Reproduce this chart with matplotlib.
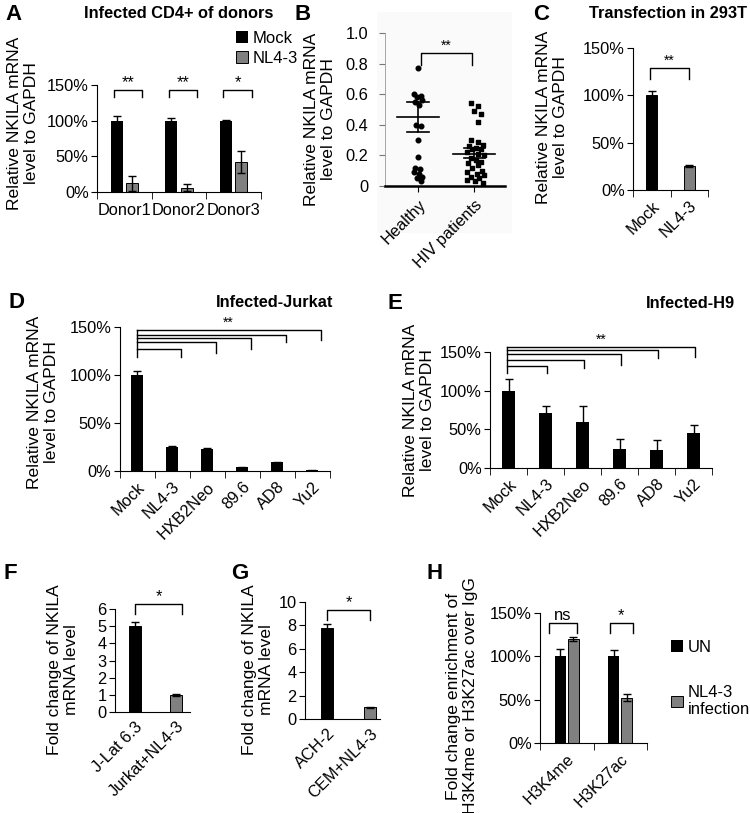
import matplotlib.pyplot as plt
import numpy as np
from matplotlib.ticker import FuncFormatter
from matplotlib.patches import Rectangle

plt.rcParams['font.family'] = ['Liberation Sans', 'DejaVu Sans']

# ---- data ----
donors = ['Donor1', 'Donor2', 'Donor3']
a_mock = [100, 100, 100]
a_mock_err = [6, 4, 1]
a_nl = [12, 6, 42]
a_nl_err = [10, 5, 15]
a_stars = ['**', '**', '*']

b_groups = ['Healthy', 'HIV patients']
healthy = [0.77, 0.60, 0.59, 0.58, 0.56, 0.55, 0.53, 0.40, 0.39, 0.30,
           0.19, 0.12, 0.11, 0.09, 0.08, 0.06, 0.05, 0.03]
hiv = [0.54, 0.52, 0.49, 0.47, 0.42, 0.30, 0.29, 0.27, 0.26, 0.25, 0.24,
       0.24, 0.22, 0.21, 0.20, 0.18, 0.17, 0.16, 0.15, 0.14, 0.12, 0.10,
       0.09, 0.08, 0.07, 0.06, 0.05, 0.04, 0.03, 0.02]
b_mean = [0.45, 0.21]
b_sem_lo = [0.35, 0.18]
b_sem_hi = [0.55, 0.25]
healthy_dx = [0.0, -0.15, 0.12, -0.05, 0.15, -0.12, 0.05, -0.08, 0.1, 0.0,
              0.0, -0.12, 0.08, -0.15, 0.02, 0.15, -0.05, 0.1]
hiv_dx = [-0.08, 0.12, 0.0, 0.2, 0.1, -0.1, 0.12, 0.25, -0.15, 0.05, -0.05,
          0.2, -0.2, 0.1, 0.28, -0.1, 0.05, 0.2, -0.18, 0.12, -0.05, 0.22,
          -0.2, 0.08, 0.3, -0.1, 0.15, -0.22, 0.02, 0.25]

c_labels = ['Mock', 'NL4-3']
c_vals = [100, 25]
c_err = [5, 1]

virus = ['Mock', 'NL4-3', 'HXB2Neo', '89.6', 'AD8', 'Yu2']
d_vals = [100, 25, 23, 4, 9, 1]
d_err = [4, 1, 1, 0.5, 0.5, 0.5]
e_vals = [100, 71, 60, 25, 23, 45]
e_err = [15, 9, 20, 13, 13, 10]

f_labels = ['J-Lat 6.3', 'Jurkat+NL4-3']
f_vals = [5.0, 1.0]
f_err = [0.25, 0.04]
g_labels = ['ACH-2', 'CEM+NL4-3']
g_vals = [7.8, 1.0]
g_err = [0.35, 0.03]

marks = ['H3K4me', 'H3K27ac']
h_un = [100, 100]
h_un_err = [9, 7]
h_nl = [120, 52]
h_nl_err = [2, 4]
h_stars = ['ns', '*']

W, H = 750, 813
fig = plt.figure(figsize=(7.5, 8.13), dpi=100)
GRAY = '#808080'
FS = 11.8


def px_axes(x0, y_top, x1, y_bot):
    return fig.add_axes([x0 / W, 1 - y_bot / H, (x1 - x0) / W, (y_bot - y_top) / H])


def ftext(x, y, s, **kw):
    fig.text(x / W, 1 - y / H, s, **kw)


def style(ax):
    for s in ['top', 'right']:
        ax.spines[s].set_visible(False)
    ax.tick_params(axis='y', direction='out', length=4, labelsize=FS, pad=2)
    ax.patch.set_alpha(0)


def cat_axis(ax, n, labels, rot=45):
    ax.set_xticks(range(n))
    if rot:
        ax.set_xticklabels(labels, rotation=rot, ha='right', rotation_mode='anchor', fontsize=FS)
    else:
        ax.set_xticklabels(labels, fontsize=FS)
    ax.tick_params(axis='x', length=0, pad=6)
    ax.set_xticks(np.arange(n + 1) - 0.5, minor=True)
    ax.tick_params(axis='x', which='minor', length=5, direction='out')


def pct(ax):
    ax.set_ylim(0, 150)
    ax.set_yticks([0, 50, 100, 150])
    ax.yaxis.set_major_formatter(FuncFormatter(lambda v, p: f'{v:.0f}%'))


def bracket(ax, x0, x1, top, y0, y1, txt, fs=FS):
    ax.plot([x0, x0, x1, x1], [y0, top, top, y1], color='black', lw=1, clip_on=False)
    ax.text((x0 + x1) / 2, top, txt, ha='center', va='bottom', fontsize=fs, clip_on=False)


ekw = dict(elinewidth=1, capthick=1, ecolor='black')

# ---- A ----
ax = px_axes(97, 85, 261, 192)
style(ax)
x = np.arange(len(donors))
bm = ax.bar(x - 0.14, a_mock, 0.22, yerr=a_mock_err, color='black', capsize=3, error_kw=ekw)
bn = ax.bar(x + 0.14, a_nl, 0.22, yerr=a_nl_err, color=GRAY, edgecolor='black', lw=0.7,
            capsize=3, error_kw=ekw)
pct(ax)
ax.set_xlim(-0.5, 2.5)
cat_axis(ax, 3, donors, rot=0)
ax.tick_params(axis='x', pad=8)
for i, s in enumerate(a_stars):
    bracket(ax, i - 0.19, i + 0.33, 143, 133, 133, s)
ax.legend([bm, bn], ['Mock', 'NL4-3'], loc='upper left', bbox_to_anchor=(236 / W, 1 - 31 / H),
          bbox_transform=fig.transFigure, frameon=False, handlelength=0.7, handleheight=0.7,
          handletextpad=0.3, borderaxespad=0, borderpad=0, labelspacing=0.3, fontsize=12)

# ---- B ----
fig.patches.append(Rectangle((377 / W, 1 - 233 / H), 135 / W, 221 / H, transform=fig.transFigure,
                             facecolor='#fafafa', edgecolor='none', zorder=-5))
ax = px_axes(385, 33, 505, 186)
style(ax)
ax.scatter(np.array(healthy_dx) * 0.5, healthy, s=11, marker='o', color='black', zorder=3)
ax.scatter(1 + np.array(hiv_dx) * 0.6, hiv, s=10, marker='s', color='black', zorder=3)
for i in range(2):
    ax.plot([i - 0.37, i + 0.37], [b_mean[i]] * 2, color='black', lw=1.2)
    ax.plot([i - 0.19, i + 0.19], [b_sem_lo[i]] * 2, color='black', lw=1.2)
    ax.plot([i - 0.19, i + 0.19], [b_sem_hi[i]] * 2, color='black', lw=1.2)
    ax.plot([i, i], [b_sem_lo[i], b_sem_hi[i]], color='black', lw=1.2)
ax.set_ylim(0, 1.0)
ax.set_xlim(-0.59, 1.55)
ax.set_yticks([0, 0.2, 0.4, 0.6, 0.8, 1.0])
ax.set_yticklabels(['0', '0.2', '0.4', '0.6', '0.8', '1.0'])
ax.tick_params(axis='y', pad=8, color='#777777')
ax.spines['left'].set_color('#999999')
ax.spines['left'].set_linewidth(0.6)
ax.spines['bottom'].set_linewidth(1.8)
ax.set_xticks([0, 1])
ax.set_xticklabels(b_groups, rotation=45, ha='right', rotation_mode='anchor', fontsize=FS)
ax.tick_params(axis='x', length=4, pad=4)
bracket(ax, 0.05, 0.96, 0.87, 0.79, 0.79, '**', fs=10)

# ---- C ----
ax = px_axes(633, 48, 708, 190)
style(ax)
ax.bar([0, 1], c_vals, 0.3, yerr=c_err, color=['black', GRAY], edgecolor='black', lw=0.7,
       capsize=3, error_kw=ekw)
pct(ax)
ax.set_xlim(-0.5, 1.375)
cat_axis(ax, 2, c_labels)
bracket(ax, -0.05, 1.0, 129, 117, 117, '**', fs=10)

# ---- D ----
ax = px_axes(119.5, 327, 329.5, 471)
style(ax)
ax.bar(range(6), d_vals, 0.34, yerr=d_err, color='black', capsize=3, error_kw=ekw)
pct(ax)
ax.set_xlim(-0.5, 5.5)
cat_axis(ax, 6, virus)
d_top = [127, 134, 139, 142, 147]
d_end = [119, 123, 127, 134, 136]
for i in range(5):
    ax.plot([0, i + 1.25, i + 1.25], [d_top[i], d_top[i], d_end[i]], color='black', lw=1, clip_on=False)
ax.plot([0, 0], [119, 147], color='black', lw=1, clip_on=False)
ax.text(2.6, 147, '**', ha='center', va='bottom', fontsize=10)

# ---- E ----
ax = px_axes(490, 352, 712, 468)
style(ax)
ax.bar(range(6), e_vals, 0.33, yerr=e_err, color='black', capsize=3, error_kw=ekw)
pct(ax)
ax.set_xlim(-0.5, 5.5)
cat_axis(ax, 6, virus)
e_top = [132, 140, 147, 153, 157]
e_end = [123, 129, 133, 142, 144]
for i in range(5):
    ax.plot([-0.05, i + 1.03, i + 1.03], [e_top[i], e_top[i], e_end[i]], color='black', lw=1, clip_on=False)
ax.plot([-0.05, -0.05], [123, 157], color='black', lw=1, clip_on=False)
ax.text(2.5, 157, '**', ha='center', va='bottom', fontsize=10)

# ---- F ----
ax = px_axes(115, 609, 190, 712)
style(ax)
ax.bar([0, 1], f_vals, 0.3, yerr=f_err, color=['black', GRAY], edgecolor='black', lw=0.7,
       capsize=3, error_kw=ekw)
ax.set_ylim(0, 6)
ax.set_yticks(range(7))
ax.set_xlim(-0.49, 1.34)
ax.set_xticks([0, 1])
ax.set_xticklabels(f_labels, rotation=45, ha='right', rotation_mode='anchor', fontsize=FS)
ax.tick_params(axis='x', length=0, pad=5)
bracket(ax, 0, 1.15, 6.3, 5.7, 5.7, '*')

# ---- G ----
ax = px_axes(305, 602, 380, 719)
style(ax)
ax.bar([0, 1], g_vals, 0.28, yerr=g_err, color=['black', GRAY], edgecolor='black', lw=0.7,
       capsize=3, error_kw=ekw)
ax.set_ylim(0, 10)
ax.set_yticks(range(0, 11, 2))
ax.set_xlim(-0.51, 1.23)
ax.set_xticks([0, 1])
ax.set_xticklabels(g_labels, rotation=45, ha='right', rotation_mode='anchor', fontsize=FS)
ax.tick_params(axis='x', length=0, pad=5)
bracket(ax, 0, 1.0, 9.3, 8.5, 8.5, '*')

# ---- H ----
ax = px_axes(540, 613, 647, 743)
style(ax)
x = np.arange(len(marks))
hu = ax.bar(x - 0.12, h_un, 0.21, yerr=h_un_err, color='black', capsize=3, error_kw=ekw)
hn = ax.bar(x + 0.12, h_nl, 0.21, yerr=h_nl_err, color=GRAY, edgecolor='black', lw=0.7,
            capsize=3, error_kw=ekw)
pct(ax)
ax.set_xlim(-0.5, 1.445)
cat_axis(ax, 2, marks)
bracket(ax, -0.34, 0.2, 138, 127, 127, h_stars[0], fs=12)
bracket(ax, 0.8, 1.24, 138, 127, 127, h_stars[1])
ax.legend([hu, hn], ['UN', 'NL4-3\ninfection'], loc='upper left', bbox_to_anchor=(671 / W, 1 - 640 / H),
          bbox_transform=fig.transFigure, frameon=False, handlelength=0.7, handleheight=0.7,
          handletextpad=0.3, borderaxespad=0, borderpad=0, labelspacing=1.8, fontsize=12)

# ---- labels, titles ----
ylab = 'Relative NKILA mRNA\nlevel to GAPDH'
fold = 'Fold change of NKILA\nmRNA level'
lab_kw = dict(rotation=90, ha='center', va='center', multialignment='center', fontsize=12.6,
              linespacing=1.1)
ftext(23, 123, ylab, **lab_kw)
ftext(320, 119, ylab, **lab_kw)
ftext(552, 117, ylab, **lab_kw)
ftext(43, 402, ylab, **lab_kw)
ftext(419, 410, ylab, **lab_kw)
ftext(63, 670, fold, **lab_kw)
ftext(258, 670, fold, **lab_kw)
ftext(462, 696, 'Fold change enrichment of\nH3K4me or H3K27ac over IgG', **lab_kw)

tkw = dict(ha='center', va='center', fontsize=11.8, fontweight='bold')
ftext(179, 14, 'Infected CD4+ of donors', **tkw)
ftext(668, 14, 'Transfection in 293T', **tkw)
ftext(275, 302, 'Infected-Jurkat', **tkw)
ftext(690, 303, 'Infected-H9', **tkw)

lkw = dict(ha='center', va='center', fontsize=16, fontweight='bold')
for s, xx, yy in [('A', 13, 14), ('B', 303, 15), ('C', 541, 15), ('D', 16, 302),
                  ('E', 395, 303), ('F', 10, 573), ('G', 240, 573), ('H', 435, 573)]:
    ftext(xx, yy, s, **lkw)

fig.savefig('out.png', dpi=100)
